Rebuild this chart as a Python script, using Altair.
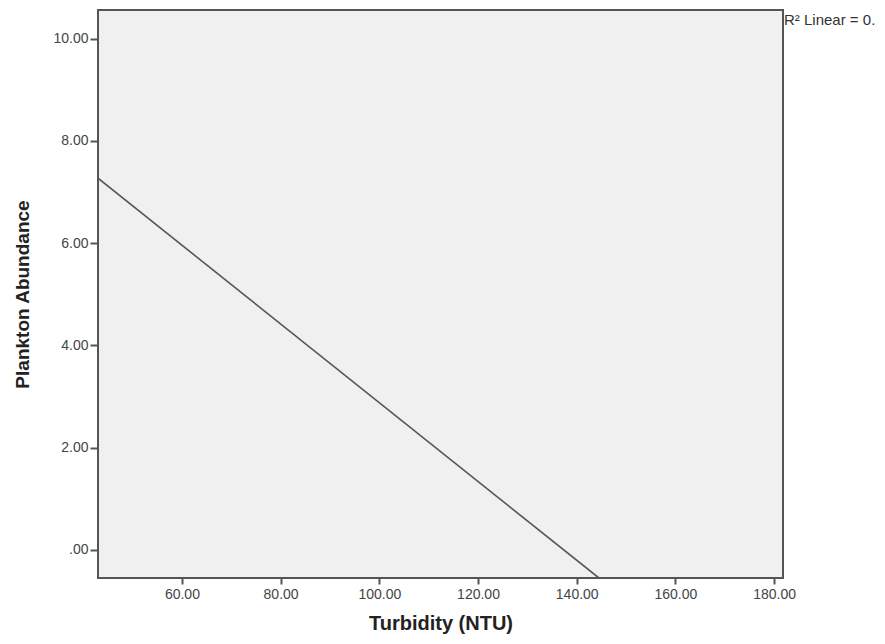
import altair as alt
import pandas as pd

# Fit line endpoints
line_x = [43.0, 144.5]
line_y = [7.27, -0.55]

x_ticks = [60, 80, 100, 120, 140, 160, 180]
y_ticks = [0, 2, 4, 6, 8, 10]
annotation = ["R\u00b2 Linear = 0."]

df = pd.DataFrame({"Turbidity": line_x, "Plankton": line_y})
ann = pd.DataFrame({"label": annotation})

lab_expr = "datum.value == 0 ? '.00' : format(datum.value, '.2f')"

x_enc = alt.X(
    "Turbidity:Q",
    title="Turbidity (NTU)",
    scale=alt.Scale(domain=[43.0, 181.8], nice=False, zero=False),
    axis=alt.Axis(values=x_ticks, labelExpr=lab_expr, grid=False, domain=False,
                  tickSize=6, tickWidth=2, tickColor="#555555",
                  labelFontSize=14, labelColor="#444444", labelFont="Liberation Sans",
                  labelPadding=3, titleFontSize=20, titleFont="Liberation Sans",
                  titleFontWeight="bold", titleColor="#222222", titlePadding=12),
)
y_enc = alt.Y(
    "Plankton:Q",
    title="Plankton Abundance",
    scale=alt.Scale(domain=[-0.55, 10.56], nice=False, zero=False),
    axis=alt.Axis(values=y_ticks, labelExpr=lab_expr, grid=False, domain=False,
                  tickSize=8, tickWidth=2, tickColor="#555555",
                  labelFontSize=14, labelColor="#444444", labelFont="Liberation Sans",
                  labelPadding=2, titleFontSize=19, titleFont="Liberation Sans",
                  titleFontWeight="bold", titleColor="#222222", titlePadding=20),
)

line = alt.Chart(df).mark_line(color="#555555", strokeWidth=1.6, clip=True).encode(
    x=x_enc, y=y_enc
)

text = alt.Chart(ann).mark_text(
    align="left", baseline="middle", fontSize=15, font="Liberation Sans", color="#333333"
).encode(text="label:N", x=alt.value(686), y=alt.value(10))

chart = (
    alt.layer(line, text)
    .properties(
        width=685,
        height=568,
        autosize=alt.AutoSizeParams(type="none"),
        padding={"left": 90, "top": 2, "right": 94, "bottom": 64},
        background="white",
    )
    .configure_view(fill="#f0f0f0", stroke="#555555", strokeWidth=2)
)

chart.save("out.html", embed_options={"renderer": "svg", "actions": False})
